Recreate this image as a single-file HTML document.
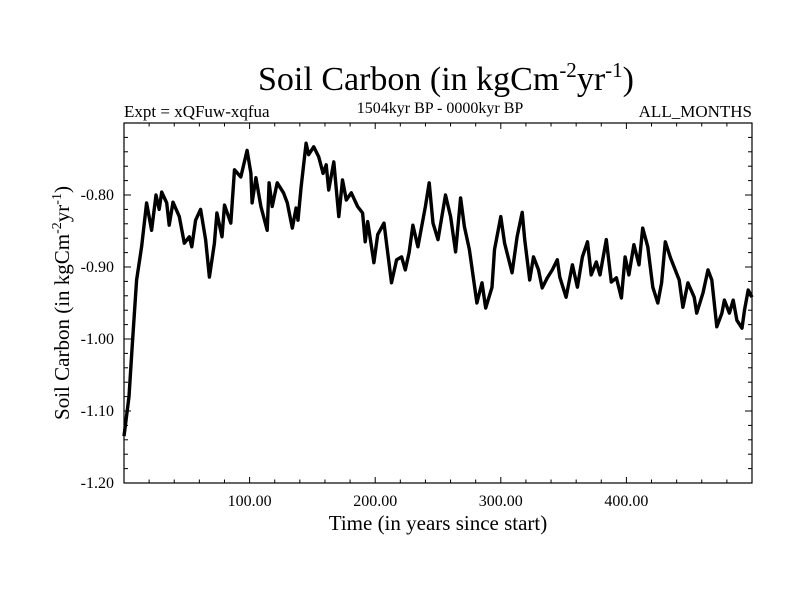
<!DOCTYPE html>
<html><head><meta charset="utf-8"><style>
body{margin:0;background:#fff}
svg text{font-family:"Liberation Serif",serif;fill:#000}
</style></head><body>
<svg id="chart" width="800" height="600" viewBox="0 0 800 600" xmlns="http://www.w3.org/2000/svg">
<rect width="800" height="600" fill="#fff"/>
<text x="446" y="90" font-size="34" text-anchor="middle">Soil Carbon (in kgCm<tspan dy="-13" font-size="21">-2</tspan><tspan dy="13">yr</tspan><tspan dy="-13" font-size="21">-1</tspan><tspan dy="13">)</tspan></text>
<text x="124" y="117" font-size="17">Expt = xQFuw-xqfua</text>
<text x="440" y="113" font-size="16" text-anchor="middle">1504kyr BP - 0000kyr BP</text>
<text x="752" y="117" font-size="17" text-anchor="end">ALL_MONTHS</text>
<g id="axes"></g>
<rect x="124" y="123" width="628" height="360" fill="none" stroke="#000" stroke-width="1.2"/>
<path id="line" fill="none" stroke="#000" stroke-width="3.4" stroke-linejoin="round"/>
<text x="438" y="530" font-size="21" text-anchor="middle">Time (in years since start)</text>
<text transform="translate(69,303) rotate(-90)" font-size="21" text-anchor="middle">Soil Carbon (in kgCm<tspan dy="-8" font-size="14">-2</tspan><tspan dy="8">yr</tspan><tspan dy="-8" font-size="14">-1</tspan><tspan dy="8">)</tspan></text>
</svg>
<script>
const times=[0,4,6.5,10,14,18,22,25.5,28,30,34,36,39,44,48,52,54,57,61,65,68,72,74,78,80,85,88,93,98,101,102,105,109,114,115.5,118,122,127,130,134,137,138.5,141,145,147,151,155,158.5,161,163,167,171,174,177,181,186,190,192,194,199,202,207,209,213,217,221,224,227,230,234,240,243,246,250,256,260,264,268,271,275,281,285,288,293,295,300,303,309,313,317,319,323,326,330,333,337,341,345,347,352,357,361,365,369,372,376,379,384,388,392,396,399,402,406,410,413,417,421,425,428,431,435,438,442,445,449,454,456,461,465,468,472,476,478,482,485,488,492,494,497,500];
const values=[-1.135,-1.08,-1.01,-0.918,-0.872,-0.811,-0.849,-0.80,-0.82,-0.796,-0.811,-0.842,-0.81,-0.83,-0.867,-0.858,-0.872,-0.835,-0.82,-0.862,-0.914,-0.867,-0.825,-0.858,-0.814,-0.839,-0.765,-0.775,-0.738,-0.77,-0.811,-0.776,-0.816,-0.849,-0.783,-0.816,-0.783,-0.797,-0.811,-0.846,-0.818,-0.835,-0.789,-0.728,-0.744,-0.733,-0.747,-0.77,-0.758,-0.793,-0.754,-0.83,-0.779,-0.807,-0.797,-0.816,-0.825,-0.865,-0.837,-0.894,-0.855,-0.839,-0.867,-0.922,-0.89,-0.886,-0.904,-0.88,-0.842,-0.872,-0.816,-0.783,-0.839,-0.862,-0.80,-0.83,-0.879,-0.804,-0.844,-0.876,-0.95,-0.922,-0.957,-0.928,-0.876,-0.83,-0.867,-0.908,-0.858,-0.824,-0.862,-0.918,-0.886,-0.904,-0.929,-0.915,-0.904,-0.89,-0.914,-0.942,-0.897,-0.928,-0.886,-0.865,-0.911,-0.893,-0.911,-0.862,-0.921,-0.915,-0.943,-0.886,-0.911,-0.869,-0.897,-0.846,-0.872,-0.928,-0.95,-0.922,-0.865,-0.887,-0.90,-0.918,-0.956,-0.922,-0.942,-0.964,-0.936,-0.904,-0.918,-0.983,-0.964,-0.946,-0.964,-0.946,-0.974,-0.985,-0.96,-0.932,-0.942];
const xTicks=[100,200,300,400];
const xTickLabels=["100.00","200.00","300.00","400.00"];
const yTicks=[-1.2,-1.1,-1.0,-0.9,-0.8];
const yTickLabels=["-1.20","-1.10","-1.00","-0.90","-0.80"];
const X0=124,X1=752,Y0=483,Y1=123,XMIN=0,XMAX=500,YMIN=-1.2,YMAX=-0.7;
function sx(v){return X0+(v-XMIN)/(XMAX-XMIN)*(X1-X0);}
function sy(v){return Y0-(v-YMIN)/(YMAX-YMIN)*(Y0-Y1);}
const NS="http://www.w3.org/2000/svg";
const ax=document.getElementById('axes');
function ln(x1,y1,x2,y2,name){const l=document.createElementNS(NS,'line');
l.setAttribute('x1',x1);l.setAttribute('y1',y1);l.setAttribute('x2',x2);l.setAttribute('y2',y2);
l.setAttribute('stroke','#000');l.setAttribute('stroke-width','1');


ax.appendChild(l);}
for(let v=20;v<500;v+=20){const major=v%100===0;const L=major?6:3.5;const x=sx(v);
ln(x,Y0,x,Y0-L,'x-tick');ln(x,Y1,x,Y1+L,'x-tick-top');}
for(let i=1;i<25;i++){const v=YMIN+i*0.02;const major=i%5===0;const L=major?7:4;const y=sy(v);
ln(X0,y,X0+L,y,'y-tick');ln(X1,y,X1-L,y,'y-tick-right');}
xTicks.forEach((v,i)=>{const t=document.createElementNS(NS,'text');
t.setAttribute('x',sx(v));t.setAttribute('y',Y0+23);t.setAttribute('font-size','16');t.setAttribute('text-anchor','middle');


t.textContent=xTickLabels[i];ax.appendChild(t);});
yTicks.forEach((v,i)=>{const t=document.createElementNS(NS,'text');
t.setAttribute('x',X0-10);t.setAttribute('y',sy(v)+5);t.setAttribute('font-size','16');t.setAttribute('text-anchor','end');


t.textContent=yTickLabels[i];ax.appendChild(t);});
let d='';times.forEach((t,i)=>{d+=(i?'L':'M')+sx(t).toFixed(1)+' '+sy(values[i]).toFixed(1);});
document.getElementById('line').setAttribute('d',d);
</script>
</body></html>
